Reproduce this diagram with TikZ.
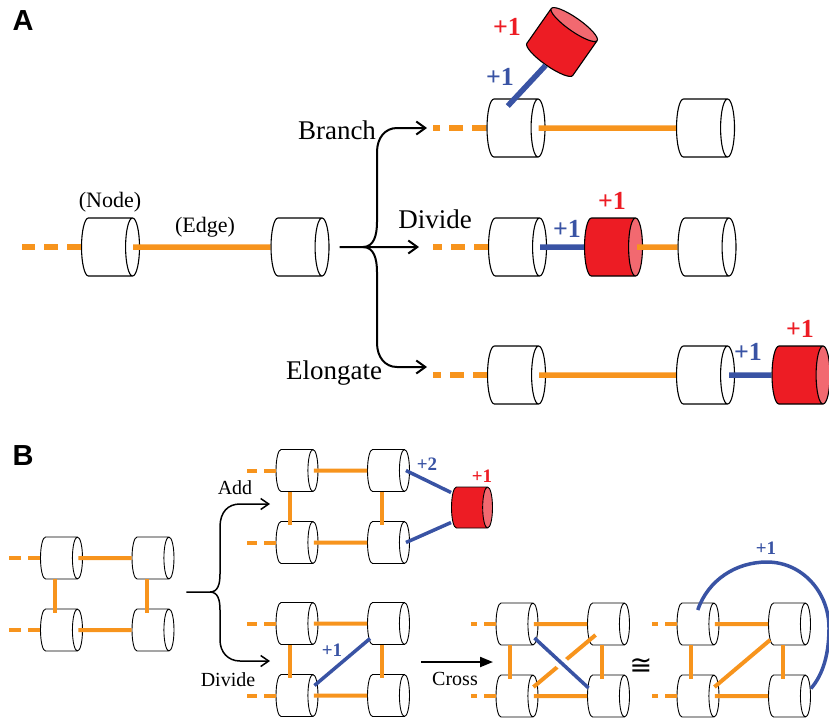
\documentclass[tikz,border=0pt]{standalone}
\usepackage{fontspec}
\setmainfont{Liberation Serif}
\newfontfamily\panelsf{Liberation Sans}
\newfontfamily\symsf{DejaVu Sans}
\usetikzlibrary{shapes.geometric,arrows.meta}

\definecolor{edgeorange}{RGB}{247,148,29}
\definecolor{addblue}{RGB}{57,83,164}
\definecolor{newred}{RGB}{237,28,36}
\definecolor{newpink}{RGB}{242,105,112}

\tikzset{
  cyl/.style={shape=cylinder, draw=black, aspect=0.24, inner xsep=0pt, anchor=shape center},
  bignode/.style={cyl, fill=white, line width=1.1pt, inner ysep=29pt, minimum width=55pt, minimum height=58pt},
  bigred/.style={cyl, line width=1.1pt, inner ysep=29pt, minimum width=55pt, minimum height=58pt,
    cylinder uses custom fill, cylinder body fill=newred, cylinder end fill=newpink},
  smallnode/.style={cyl, fill=white, line width=0.9pt, inner ysep=21pt, minimum width=41pt, minimum height=42pt},
  smallred/.style={cyl, line width=0.9pt, inner ysep=20.5pt, minimum width=41pt, minimum height=41pt,
    cylinder uses custom fill, cylinder body fill=newred, cylinder end fill=newpink},
  orangeline/.style={draw=edgeorange, line width=5.5pt},
  orangelead/.style={orangeline, dash pattern=on 14pt off 9pt},
  blueline/.style={draw=addblue, line width=5.5pt},
  smallline/.style={draw=edgeorange, line width=4pt},
  smalllead/.style={smallline, dash pattern=on 12pt off 7pt},
  smallblue/.style={draw=addblue, line width=3.5pt},
  brace/.style={line width=2pt, -{Straight Barb[length=9pt,width=13pt]}},
  smallbrace/.style={line width=1.5pt, -{Straight Barb[length=8pt,width=11pt]}},
  panel/.style={inner sep=0pt, font=\panelsf\bfseries\fontsize{29}{30}\selectfont},
  optext/.style={inner sep=0pt, font=\fontsize{27}{30}\selectfont},
  tag/.style={inner sep=0pt, font=\fontsize{22}{24}\selectfont},
  inc/.style={inner sep=0pt, font=\bfseries\fontsize{26}{28}\selectfont},
  btext/.style={inner sep=0pt, font=\fontsize{20}{22}\selectfont},
  binc/.style={inner sep=0pt, font=\bfseries\fontsize{19}{21}\selectfont}
}

\begin{document}
\begin{tikzpicture}[x=1pt,y=-1pt]
  \useasboundingbox (0,0) rectangle (829,721);

  % Panel letters
  \node[panel] (pa) at (23,21) {A};
  \node[panel] (pb) at (23,456) {B};

  % A: the chain we start from
  \node[bignode] (n1) at (110.5,247) {};
  \node[bignode] (n2) at (300,247) {};
  \coordinate (n0) at (22,247);
  \draw[orangelead] (n1.west) -- (n0);
  \draw[orangeline] ([xshift=-7pt]n1.east) -- (n2.west);
  \node[tag] (nodelabel) at (110,202) {(Node)};
  \node[tag] (edgelabel) at (205,227) {(Edge)};

  % A: the brace with three arrows
  \coordinate (fa) at (363,247);
  \coordinate (ta1) at (427,128);
  \coordinate (ta2) at (419,247);
  \coordinate (ta3) at (427,367);
  \draw[brace] ([xshift=10pt]n2.east) -- (fa) -- (ta2);
  \draw[brace] (fa) .. controls (374,247) and (377,235) .. (377,222) -- (377,152)
    .. controls (377,138) and (385,128) .. (397,128) -- (ta1);
  \draw[brace] (fa) .. controls (374,247) and (377,259) .. (377,272) -- (377,343)
    .. controls (377,357) and (385,367) .. (397,367) -- (ta3);
  \node[optext] (branch) at (337,130) {Branch};
  \node[optext] (divide) at (435,219) {Divide};
  \node[optext] (elongate) at (334,373) {Elongate};

  % Branch
  \node[bignode] (b1) at (516,128) {};
  \node[bignode] (b2) at (705.5,128) {};
  \node[bigred, rotate=55, inner ysep=28pt, minimum width=52pt, minimum height=56pt] (bred) at (562,42) {};
  \coordinate (b0) at (433,128);
  \draw[orangelead] (b1.west) -- (b0);
  \draw[orangeline] ([xshift=-7pt]b1.east) -- (b2.west);
  \draw[blueline] ([xshift=-1pt,yshift=22pt]b1.center) -- (bred.west);
  \node[inc, text=newred] (bplusr) at (507,27) {+1};
  \node[inc, text=addblue] (bplusb) at (500,77) {+1};

  % Divide
  \node[bignode] (d1) at (517.5,247) {};
  \node[bigred] (dred) at (613.5,247) {};
  \node[bignode] (d2) at (707,247) {};
  \coordinate (d0) at (433,247);
  \draw[orangelead] (d1.west) -- (d0);
  \draw[blueline] ([xshift=-7pt]d1.east) -- (dred.west);
  \draw[orangeline] ([xshift=-6pt]dred.east) -- (d2.west);
  \node[inc, text=newred] (dplusr) at (612,201) {+1};
  \node[inc, text=addblue] (dplusb) at (567,229) {+1};

  % Elongate
  \node[bignode] (e1) at (516.5,375) {};
  \node[bignode] (e2) at (705.5,375) {};
  \node[bigred] (ered) at (801,375) {};
  \coordinate (e0) at (433,375);
  \draw[orangelead] (e1.west) -- (e0);
  \draw[orangeline] ([xshift=-7pt]e1.east) -- (e2.west);
  \draw[blueline] ([xshift=-6pt]e2.east) -- (ered.west);
  \node[inc, text=newred] (eplusr) at (800,329) {+1};
  \node[inc, text=addblue] (eplusb) at (748,352) {+1};

  % B: five copies of the little square
  \foreach \g/\x/\y/\l in {L/61.5/558/33, A/297/470.5/30, D/297/623.5/30, C/517/624/26, I/698/624/26} {
    \node[smallnode] (\g tl) at (\x,\y) {};
    \node[smallnode] (\g tr) at (\x+91.5,\y) {};
    \node[smallnode] (\g bl) at (\x,\y+72) {};
    \node[smallnode] (\g br) at (\x+91.5,\y+72) {};
    \coordinate (\g tx) at (\x-20.5-\l,\y);
    \coordinate (\g bx) at (\x-20.5-\l,\y+72);
    \draw[smalllead] (\g tl.west) -- (\g tx);
    \draw[smalllead] (\g bl.west) -- (\g bx);
    \draw[smallline] ([xshift=-4.5pt]\g tl.east) -- (\g tr.west);
    \draw[smallline] ([xshift=-4.5pt]\g bl.east) -- (\g br.west);
    \draw[smallline, shorten >=-4pt] ([xshift=-1.5pt]\g tl.south) -- ([xshift=-1.5pt]\g bl.north);
    \draw[smallline, shorten >=-4pt] ([xshift=-1pt]\g tr.south) -- ([xshift=-1pt]\g br.north);
  }

  % B: brace
  \coordinate (fb) at (210,592);
  \coordinate (tb1) at (270,504);
  \coordinate (tb2) at (270,661);
  \draw[smallbrace] ([xshift=12pt]Ltr.east |- fb) -- (fb) .. controls (218,592) and (220,584) .. (220,574)
    -- (220,527) .. controls (220,512) and (228,504) .. (240,504) -- (tb1);
  \draw[smallbrace] (fb) .. controls (218,592) and (220,600) .. (220,610)
    -- (220,640) .. controls (220,652) and (228,661) .. (240,661) -- (tb2);
  \node[btext] (addlabel) at (235,488) {Add};
  \node[btext] (divlabel) at (228,680) {Divide};

  % Add
  \node[smallred] (ared) at (472,507.5) {};
  \draw[smallblue] ([xshift=-4pt]Atr.east) -- ([yshift=15pt]ared.west);
  \draw[smallblue] ([xshift=-4pt]Abr.east) -- ([yshift=-15pt]ared.west);
  \node[binc, text=addblue] (aplus2) at (427,464) {+2};
  \node[binc, text=newred] (aplus1) at (482,476) {+1};

  % Divide
  \draw[smallblue] ([xshift=-4pt,yshift=10pt]Dbl.east) -- ([xshift=3pt,yshift=-15pt]Dtr.west);
  \node[binc, text=addblue] (dplus1) at (332,650) {+1};

  % Cross
  \coordinate (cs) at (421,662);
  \coordinate (ce) at (493,662);
  \draw[line width=2pt, -{Triangle[length=13pt,width=10pt]}] (cs) -- (ce);
  \node[btext] (crosslabel) at (455,679) {Cross};
  \draw[smallline] ([xshift=-5pt,yshift=9pt]Cbl.east) -- ([xshift=8.5pt,yshift=-11pt]Ctr.west);
  \draw[smallblue, preaction={draw=white, line width=12pt, shorten <=14pt, shorten >=14pt}]
    ([xshift=-4pt,yshift=-14pt]Ctl.east) -- ([xshift=1.5pt,yshift=8pt]Cbr.west);

  % Same graph, drawn again
  \node[inner sep=0pt, font=\symsf\fontsize{27}{29}\selectfont] (iso) at (641,666) {≅};
  \draw[smallline] ([xshift=-5pt,yshift=9pt]Ibl.east) -- ([xshift=2pt,yshift=-16pt]Itr.west);
  \draw[smallblue] ([xshift=5pt,yshift=14pt]Itl.center) .. controls (708,580) and (736,562) .. (767,562)
    .. controls (802,562) and (829,592) .. (829,628) .. controls (829,660) and (820,678) .. ([yshift=7.5pt]Ibr.east);
  \node[binc, text=addblue] (iplus1) at (766,548) {+1};
\end{tikzpicture}
\end{document}
